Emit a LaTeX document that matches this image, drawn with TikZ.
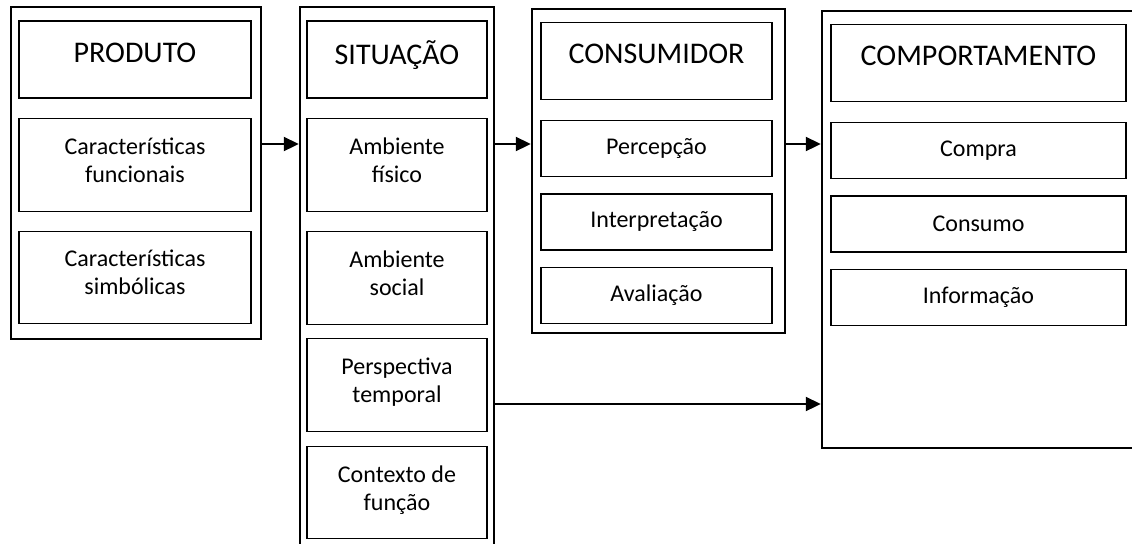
\documentclass[tikz,border=0pt]{standalone}
\usepackage{fontspec}
\setmainfont{Carlito}
\usetikzlibrary{positioning, arrows.meta}

\begin{document}
\begin{tikzpicture}[x=0.5pt, y=-0.5pt]
		\tikzset{
			>={Triangle[length=7.5pt, width=7pt]},
			bigbox/.style={draw, line width=1.2pt, inner sep=0pt},
			titlebox/.style={draw, line width=0.6pt, minimum height=38.5pt, text depth=7pt, font=\fontsize{15}{17}\selectfont},
			itembox/.style={draw, line width=0.6pt, align=center, inner sep=0pt, font=\fontsize{12}{14}\selectfont},
			twoline/.style={itembox, text depth=5pt},
			flow/.style={->, line width=1pt}
		}
		\useasboundingbox (0,0) rectangle (1132,543);
		
		% Outer frames
		\node[bigbox, minimum width=125pt, minimum height=166pt] (produto) at (136,173) {};
		\node[bigbox, minimum width=97pt, minimum height=272.5pt] (situacao) at (397,279.5) {};
		\node[bigbox, minimum width=126.5pt, minimum height=162pt] (consumidor) at (658.5,171) {};
		\node[bigbox, minimum width=161.5pt, minimum height=218.5pt] (comport) at (983.5,229.5) {};
		
		% Produto
		\node[titlebox, minimum width=116pt] (ptitle) at (135,59.5) {PRODUTO};
		\node[twoline, minimum width=116pt, minimum height=46.5pt, below=9.5pt of ptitle] (pfunc) {Características\\funcionais};
		\node[twoline, minimum width=116pt, minimum height=46pt, below=9.5pt of pfunc] (psimb) {Características\\simbólicas};
		
		% Situacao
		\node[titlebox, minimum width=90pt] (stitle) at (397,59.5) {SITUAÇÃO};
		\node[twoline, minimum width=90pt, minimum height=46.5pt, below=9.5pt of stitle] (sfis) {Ambiente\\físico};
		\node[twoline, minimum width=90pt, minimum height=46.5pt, below=9.5pt of sfis] (ssoc) {Ambiente\\social};
		\node[twoline, minimum width=90pt, minimum height=46.5pt, below=6.5pt of ssoc] (stemp) {Perspectiva\\temporal};
		\node[twoline, minimum width=90pt, minimum height=46pt, below=7pt of stemp] (sfunc) {Contexto de\\função};
		
		% Consumidor
		\node[titlebox, minimum width=115.5pt] (ctitle) at (656.5,61) {CONSUMIDOR};
		\node[itembox, minimum width=115.5pt, minimum height=28pt, below=10pt of ctitle] (cperc) {Percepção};
		\node[itembox, minimum width=115.5pt, minimum height=28pt, below=8pt of cperc] (cint) {Interpretação};
		\node[itembox, minimum width=115.5pt, minimum height=28pt, below=8pt of cint] (caval) {Avaliação};
		
		% Comportamento
		\node[titlebox, minimum width=147.5pt] (btitle) at (978.5,63) {COMPORTAMENTO};
		\node[itembox, minimum width=147.5pt, minimum height=28pt, below=10pt of btitle] (bcompra) {Compra};
		\node[itembox, minimum width=147.5pt, minimum height=28pt, below=8pt of bcompra] (bcons) {Consumo};
		\node[itembox, minimum width=147.5pt, minimum height=28pt, below=8pt of bcons] (binfo) {Informação};
		
		% Arrows
		\coordinate (row1) at (0,144);
		\coordinate (row2) at (0,404);
		\draw[flow] (produto.east |- row1) -- (situacao.west |- row1);
		\draw[flow] (situacao.east |- row1) -- (consumidor.west |- row1);
		\draw[flow] (consumidor.east |- row1) -- (comport.west |- row1);
		\draw[flow] (situacao.east |- row2) -- (comport.west |- row2);
		
	\end{tikzpicture}
\end{document}
